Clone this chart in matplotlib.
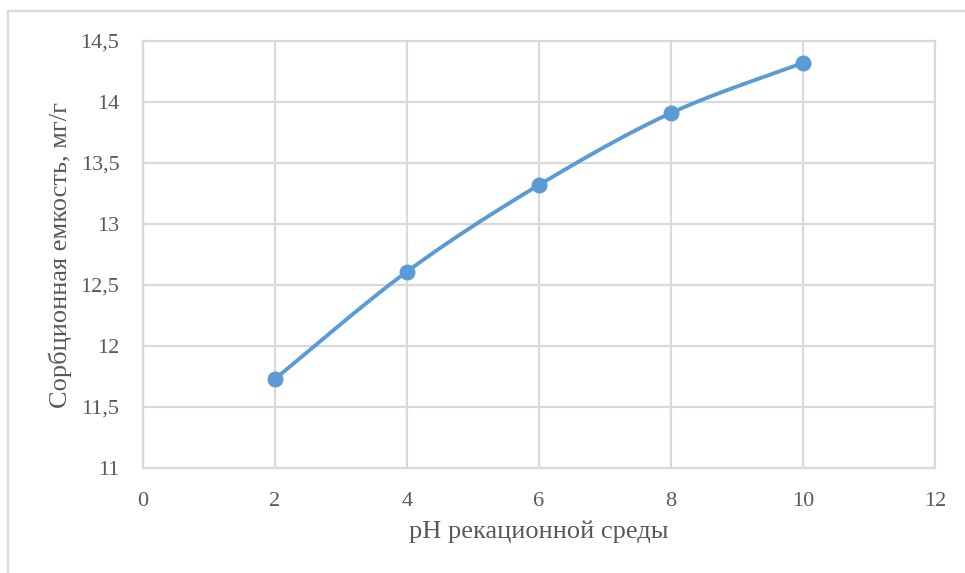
import numpy as np
import matplotlib.pyplot as plt
from matplotlib.lines import Line2D

# ---- data ----
ph = [2, 4, 6, 8, 10]
capacity = [11.73, 12.61, 13.32, 13.91, 14.32]

x_ticks = [0, 2, 4, 6, 8, 10, 12]
y_ticks = [11, 11.5, 12, 12.5, 13, 13.5, 14, 14.5]

LINE_C = "#5B9BD5"
GRID_C = "#D9D9D9"
TEXT_C = "#595959"

plt.rcParams["font.family"] = ["Liberation Serif", "DejaVu Serif"]


def smooth(xs, ys, n=40):
    # Catmull-Rom style bezier segments (like spreadsheet "smoothed line")
    xs = np.asarray(xs, float)
    ys = np.asarray(ys, float)
    P = np.column_stack([xs, ys])
    out = []
    for i in range(len(P) - 1):
        p0 = P[i - 1] if i > 0 else P[i]
        p1, p2 = P[i], P[i + 1]
        p3 = P[i + 2] if i + 2 < len(P) else P[i + 1]
        c1 = p1 + (p2 - p0) / 6
        c2 = p2 - (p3 - p1) / 6
        t = np.linspace(0, 1, n)[:, None]
        seg = ((1 - t) ** 3) * p1 + 3 * ((1 - t) ** 2) * t * c1 \
            + 3 * (1 - t) * t ** 2 * c2 + t ** 3 * p2
        out.append(seg if i == 0 else seg[1:])
    s = np.vstack(out)
    return s[:, 0], s[:, 1]


fig = plt.figure(figsize=(9.65, 5.73), dpi=100)
ax = fig.add_axes([143 / 965, 1 - 468 / 573, (935 - 143) / 965, (468 - 41) / 573])

sx, sy = smooth(ph, capacity)
ax.plot(sx, sy, color=LINE_C, lw=2.8, solid_capstyle="round", zorder=3)
ax.plot(ph, capacity, "o", color=LINE_C, ms=10.5, zorder=4)

ax.set_xlim(0, 12)
ax.set_ylim(11, 14.5)
ax.set_xticks(x_ticks)
ax.set_yticks(y_ticks)
ax.set_xticklabels([str(v) for v in x_ticks])
ax.set_yticklabels([f"{v:g}".replace(".", ",") for v in y_ticks])
ax.grid(True, color=GRID_C, lw=1.6)
ax.set_axisbelow(True)
for sp in ax.spines.values():
    sp.set_color(GRID_C)
    sp.set_linewidth(1.6)
ax.tick_params(length=0, labelsize=16, colors=TEXT_C)
ax.tick_params(axis="x", pad=17)
ax.tick_params(axis="y", pad=17)

ax.set_xlabel("pH рекационной среды", fontsize=19, color=TEXT_C, labelpad=7)
ax.set_ylabel("Сорбционная емкость, мг/г", fontsize=19, color=TEXT_C, labelpad=6)

# outer chart border (left and top edges)
fig.add_artist(Line2D([8 / 965, 8 / 965], [0, 1 - 11 / 573],
                      color=GRID_C, lw=1.6, transform=fig.transFigure))
fig.add_artist(Line2D([8 / 965, 1], [1 - 11 / 573, 1 - 11 / 573],
                      color=GRID_C, lw=1.6, transform=fig.transFigure))

fig.savefig("out.png", dpi=100)
